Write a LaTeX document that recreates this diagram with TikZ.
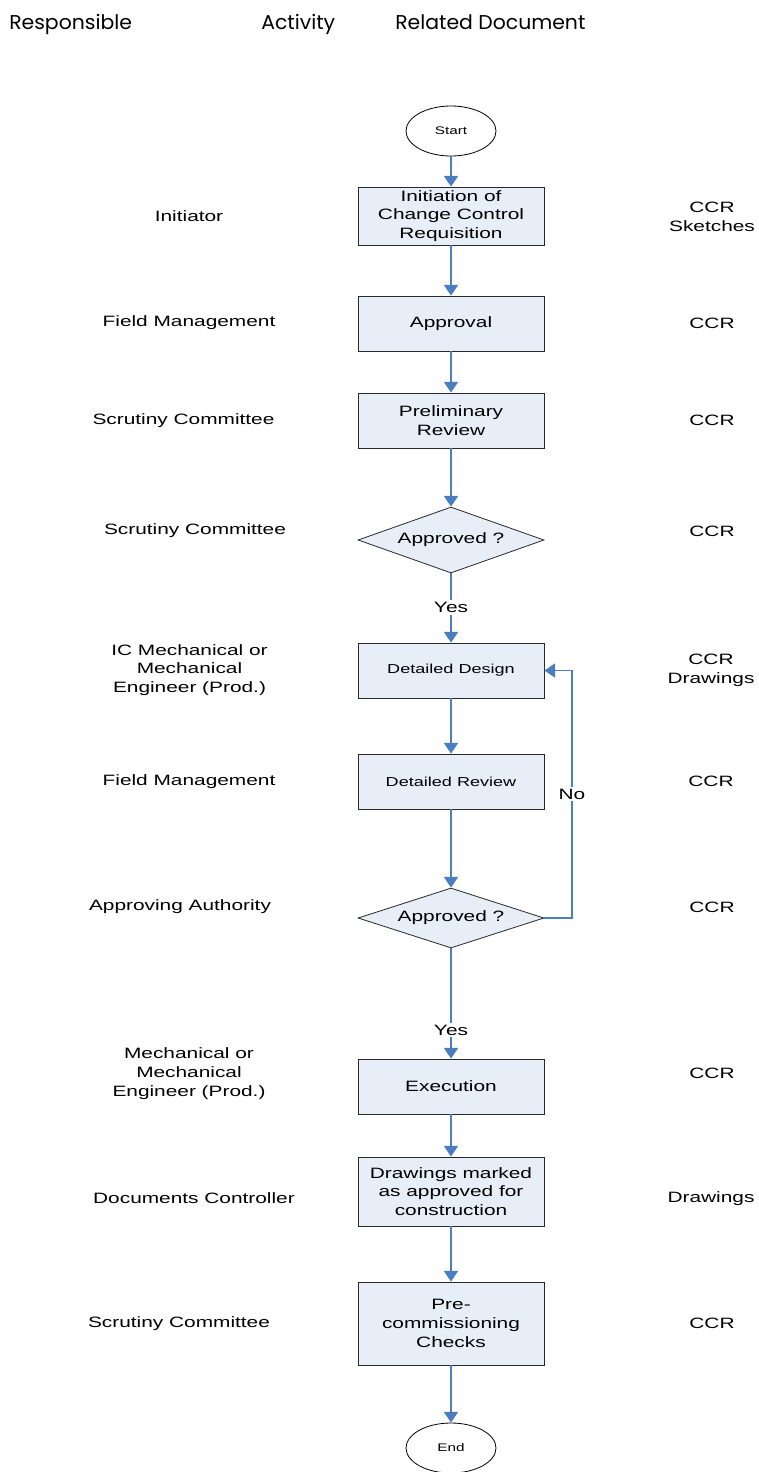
\documentclass[tikz,border=0pt]{standalone}
\usepackage{fontspec}
\setmainfont[FakeStretch=1.39]{Liberation Sans}
\newfontfamily\headfont[FakeStretch=1.02]{Poppins}
\usetikzlibrary{shapes.geometric,arrows.meta}
\definecolor{boxfill}{RGB}{232,238,247}
\definecolor{arrowblue}{RGB}{74,126,193}
\definecolor{edgegray}{RGB}{40,40,40}
\newcommand\fsbody{\fontsize{11.25pt}{14.06pt}\selectfont}
\newcommand\fssmall{\fontsize{9.75pt}{12.2pt}\selectfont}
\newcommand\fstiny{\fontsize{8.25pt}{10pt}\selectfont}
\newcommand\fshead{\headfont\fontsize{15pt}{18pt}\selectfont}
\begin{document}
\begin{tikzpicture}[x=0.75pt,y=-0.75pt,
  stepbox/.style={draw=edgegray, fill=boxfill, line width=0.6pt, minimum width=139.5pt, inner sep=0pt, align=center, font=\fsbody},
  decision/.style={diamond, draw=edgegray, fill=boxfill, line width=0.6pt, minimum width=139.5pt, inner sep=0pt, align=center, font=\fsbody},
  terminal/.style={ellipse, draw=black, line width=0.6pt, minimum width=67.5pt, minimum height=37.5pt, inner sep=0pt, font=\fstiny},
  flow/.style={draw=arrowblue, line width=1.1pt, -{Triangle[width=10.5pt,length=8pt]}},
  lbl/.style={fill=white, inner sep=1.5pt, font=\fsbody},
  side/.style={align=center, font=\fsbody, inner sep=0pt},
  head/.style={anchor=base west, font=\fshead, inner sep=0pt}]
\useasboundingbox (0,0) rectangle (758,1472);

% header
\node[head] (h1) at (9,29) {Responsible};
\node[head] (h2) at (261,29) {Activity};
\node[head] (h3) at (395,29) {Related Document};

% flow nodes
\node[terminal] (start) at (451,131) {Start};
\node[stepbox, minimum height=43.5pt] (b1) at (451,216) {Initiation of\\Change Control\\Requisition};
\node[stepbox, minimum height=41.25pt] (b2) at (451,323.5) {Approval};
\node[stepbox, minimum height=41.25pt] (b3) at (451,420.5) {Preliminary\\Review};
\node[decision, shape aspect=2.8, minimum height=49.5pt] (d1) at (451,540) {Approved ?};
\node[stepbox, minimum height=41.25pt, font=\fssmall] (b4) at (451,670.5) {Detailed Design};
\node[stepbox, minimum height=41.25pt, font=\fssmall] (b5) at (451,781.5) {Detailed Review};
\node[decision, shape aspect=3.1, minimum height=45pt] (d2) at (451,918) {Approved ?};
\node[stepbox, minimum height=41.25pt] (b6) at (451,1086.5) {Execution};
\node[stepbox, minimum height=51.75pt] (b7) at (451,1191.5) {Drawings marked\\as approved for\\construction};
\node[stepbox, minimum height=62.25pt] (b8) at (451,1323.5) {Pre-\\commissioning\\Checks};
\node[terminal] (end) at (451,1448) {End};

% connectors
\draw[flow] (start) -- (b1);
\draw[flow] (b1) -- (b2);
\draw[flow] (b2) -- (b3);
\draw[flow] (b3) -- (d1);
\draw[flow] (d1) -- node[lbl, pos=0.49] {Yes} (b4);
\draw[flow] (b4) -- (b5);
\draw[flow] (b5) -- (d2);
\draw[flow] (d2) -- node[lbl, pos=0.74] {Yes} (b6);
\coordinate (c1) at (572,918);
\coordinate (c2) at (572,670.5);
\draw[flow] (d2.east) -- (c1) -- node[lbl] {No} (c2) -- (b4.east);
\draw[flow] (b6) -- (b7);
\draw[flow] (b7) -- (b8);
\draw[flow] (b8) -- (end);

% responsible column
\node[side] (r1) at (189,216) {Initiator};
\node[side] (r2) at (189,323) {Field Management};
\node[side] (r3) at (183.5,420.5) {Scrutiny Committee};
\node[side] (r4) at (195,531) {Scrutiny Committee};
\node[side] (r5) at (189.5,670) {IC Mechanical or\\Mechanical\\Engineer (Prod.)};
\node[side] (r6) at (189,781.5) {Field Management};
\node[side] (r7) at (180,907) {Approving Authority};
\node[side] (r8) at (189,1073.5) {Mechanical or\\Mechanical\\Engineer (Prod.)};
\node[side] (r9) at (194,1198.5) {Documents Controller};
\node[side] (r10) at (179,1323.5) {Scrutiny Committee};

% related document column
\node[side] (s1) at (712,216.5) {CCR\\Sketches};
\node[side] (s2) at (712,323) {CCR};
\node[side] (s3) at (712,420.5) {CCR};
\node[side] (s4) at (712,531) {CCR};
\node[side] (s5) at (711,670) {CCR\\Drawings};
\node[side] (s6) at (711,781.5) {CCR};
\node[side] (s7) at (712,907) {CCR};
\node[side] (s8) at (712,1073.5) {CCR};
\node[side] (s9) at (711,1198.5) {Drawings};
\node[side] (s10) at (712,1323.5) {CCR};
\end{tikzpicture}
\end{document}
